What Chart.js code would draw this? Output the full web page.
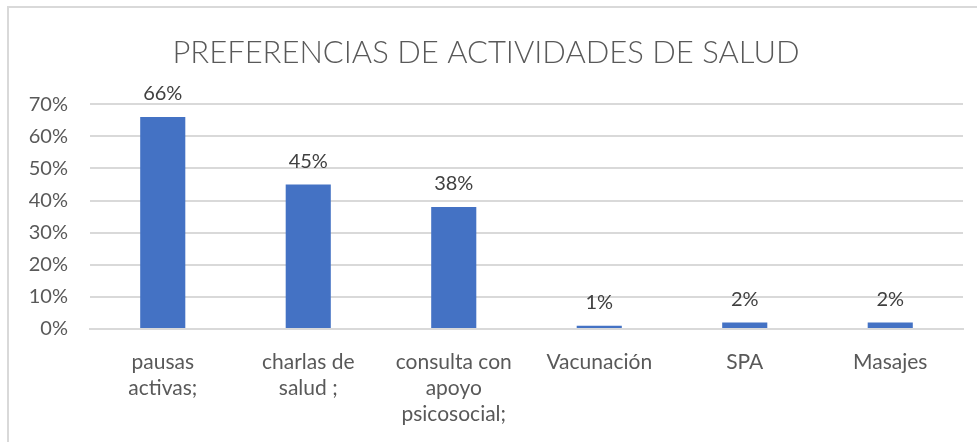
<!DOCTYPE html>
<html>
<head>
<meta charset="utf-8">
<script src="https://cdn.jsdelivr.net/npm/chart.js@4/dist/chart.umd.min.js"></script>
<style>
  html, body { margin: 0; padding: 0; background: #fff; }
  #wrap {
    position: absolute; left: 7px; top: 6px;
    width: 970px; height: 436px;
    border-left: 2px solid #d9d9d9; border-top: 2px solid #d9d9d9;
  }
  #chart { position: absolute; left: 0; top: 0; }
</style>
</head>
<body>
<div id="wrap"><canvas id="chart" width="968" height="434"></canvas></div>
<script>
// chart data
const categories = [
  ['pausas', 'activas;'],
  ['charlas de', 'salud ;'],
  ['consulta con', 'apoyo', 'psicosocial;'],
  'Vacunación',
  'SPA',
  'Masajes'
];
const values = [0.66, 0.45, 0.38, 0.01, 0.02, 0.02];
const yTicks = [0, 0.1, 0.2, 0.3, 0.4, 0.5, 0.6, 0.7];
const chartTitle = 'PREFERENCIAS DE ACTIVIDADES DE SALUD';

const fontName = 'Lato, "Noto Sans", sans-serif';

// draws the % label over every bar
const barLabels = {
  id: 'barLabels',
  afterDatasetsDraw(chart) {
    const ctx = chart.ctx;
    const meta = chart.getDatasetMeta(0);
    ctx.save();
    ctx.font = '20px ' + fontName;
    ctx.fillStyle = '#404040';
    ctx.textAlign = 'center';
    ctx.textBaseline = 'bottom';
    meta.data.forEach((bar, i) => {
      ctx.fillText(Math.round(values[i] * 100) + '%', bar.x, bar.y - 13);
    });
    ctx.restore();
  }
};

const ctx = document.getElementById('chart').getContext('2d');
const chart = new Chart(ctx, {
  type: 'bar',
  data: {
    labels: categories,
    datasets: [{
      data: values,
      backgroundColor: '#4472c4',
      borderWidth: 0,
      categoryPercentage: 1,
      barPercentage: 0.31
    }]
  },
  options: {
    responsive: false,
    animation: false,
    layout: { padding: { left: 0, right: 14, top: 0, bottom: 0 } },
    plugins: {
      legend: { display: false },
      tooltip: { enabled: false },
      title: {
        display: true,
        text: chartTitle,
        color: '#595959',
        font: { family: fontName, size: 31, weight: '300' },
        padding: { top: 26, bottom: 33 }
      }
    },
    scales: {
      y: {
        min: 0,
        max: 0.7,
        afterBuildTicks: scale => { scale.ticks = yTicks.map(v => ({ value: v })); },
        afterFit: scale => { scale.width = 81; },
        grid: { color: '#d9d9d9', lineWidth: 2, drawTicks: false },
        border: { display: false },
        ticks: {
          padding: 22,
          color: '#595959',
          font: { family: fontName, size: 20 },
          callback: v => Math.round(v * 100) + '%'
        }
      },
      x: {
        grid: { display: false },
        border: { color: '#d9d9d9', width: 2 },
        afterFit: scale => { scale.height = 113; },
        ticks: {
          padding: 12,
          maxRotation: 0,
          autoSkip: false,
          color: '#595959',
          font: { family: fontName, size: 21, lineHeight: 1.25 }
        }
      }
    }
  },
  plugins: [barLabels]
});
</script>
</body>
</html>
